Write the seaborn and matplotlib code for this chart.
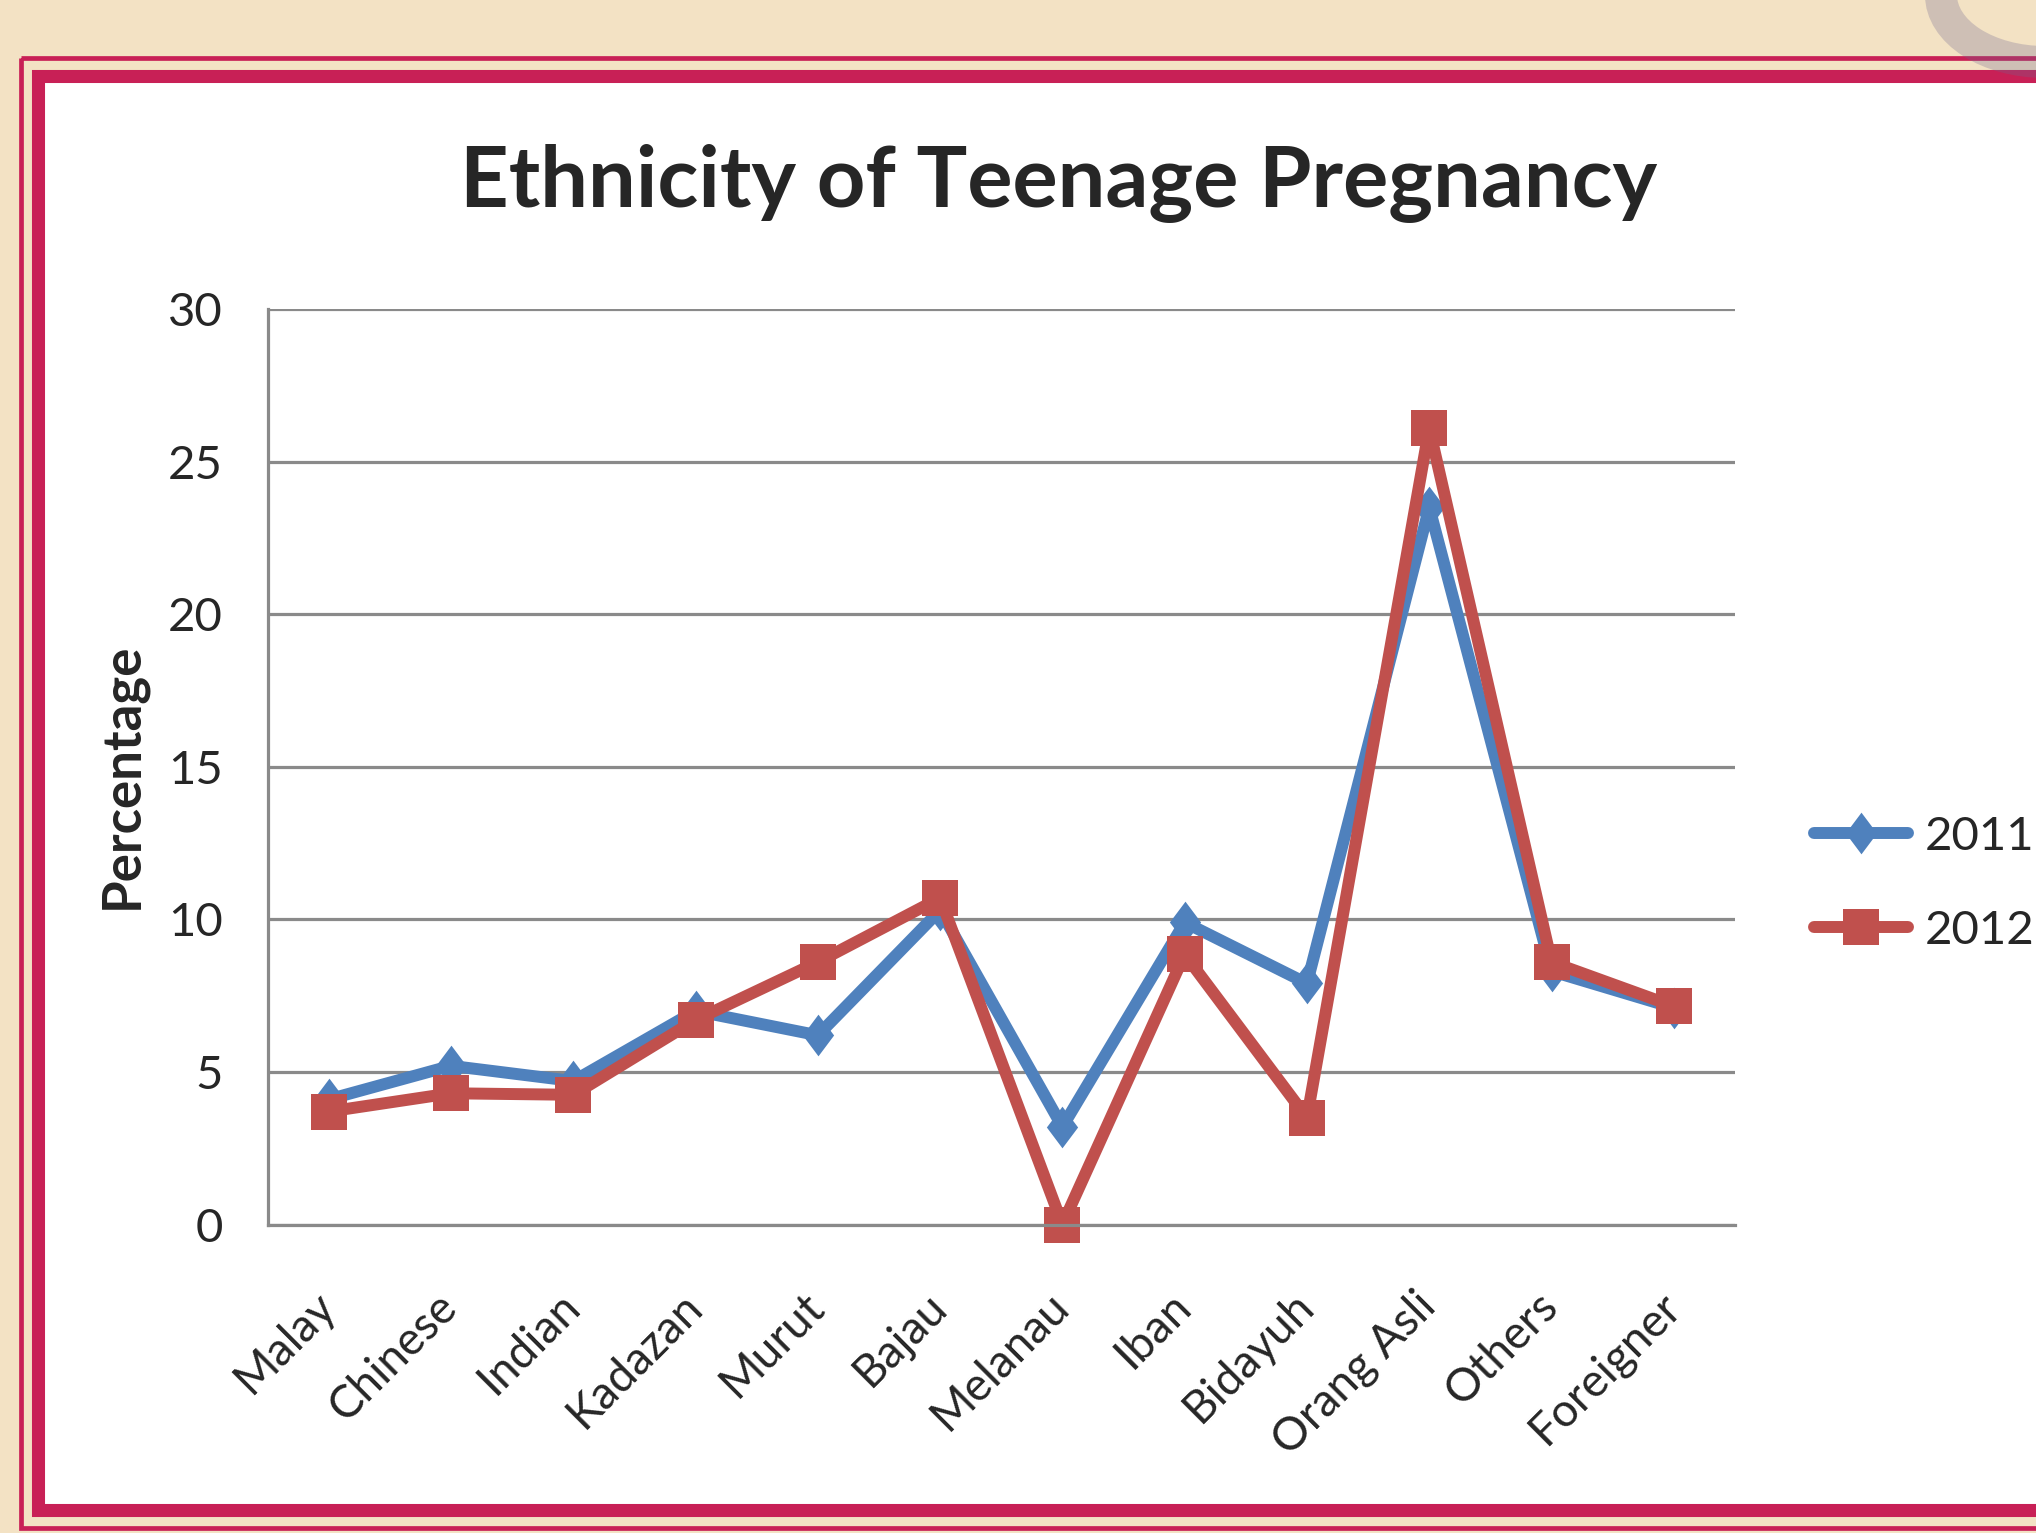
import matplotlib
matplotlib.use('Agg')
import matplotlib.pyplot as plt
from matplotlib.patches import Rectangle, Arc
import pandas as pd
import seaborn as sns

# values
ethnicity = ['Malay', 'Chinese', 'Indian', 'Kadazan', 'Murut', 'Bajau',
             'Melanau', 'Iban', 'Bidayuh', 'Orang Asli', 'Others', 'Foreigner']
pct_2011 = [4.1, 5.2, 4.7, 7.0, 6.2, 10.3, 3.2, 9.9, 7.9, 23.5, 8.3, 7.1]
pct_2012 = [3.7, 4.3, 4.25, 6.7, 8.6, 10.7, 0.0, 8.85, 3.5, 26.1, 8.6, 7.15]
years = ['2011', '2012']
yticks = [0, 5, 10, 15, 20, 25, 30]

df = pd.DataFrame({
    'Ethnicity': ethnicity * 2,
    'Year': [years[0]] * len(pct_2011) + [years[1]] * len(pct_2012),
    'Percentage': pct_2011 + pct_2012,
})

sns.set_style('white')
plt.rcParams['font.family'] = ['Lato', 'DejaVu Sans']

W, H = 2036, 1533
fig = plt.figure(figsize=(W / 100, H / 100), dpi=100)
fig.patch.set_facecolor('#F3E2C4')

# slide frame, drawn in pixel coords on a background axes
bg = fig.add_axes([0, 0, 1, 1], zorder=-10)
bg.set_xlim(0, W)
bg.set_ylim(H, 0)
bg.axis('off')
crimson = '#C82056'
bg.add_patch(Rectangle((21.5, 57.5), 2200, 1527.5 - 57.5, fill=False,
                       edgecolor=crimson, lw=3.4))
bg.add_patch(Rectangle((38.5, 75.5), 2200, 1510 - 75.5, facecolor='white',
                       edgecolor=crimson, lw=9.4))
bg.add_patch(Arc((2045, -5), 208, 134, theta1=90, theta2=270,
                 color='#6E6690', alpha=0.28, lw=23))

ax = fig.add_axes([267.5 / W, 1 - 1224.5 / H, (1735 - 267.5) / W, (1224.5 - 309) / H])
ax.set_facecolor('none')

diamond = [(0, 1), (0.75, 0), (0, -1), (-0.75, 0), (0, 1)]
sns.lineplot(data=df, x='Ethnicity', y='Percentage', hue='Year', style='Year',
             palette={'2011': '#4F81BD', '2012': '#C0504D'},
             markers={'2011': diamond, '2012': 's'}, dashes=False,
             sort=False, legend=False, ax=ax, lw=8.6)
for line, ms in zip(ax.get_lines(), [30, 26]):
    line.set_markersize(ms)
    line.set_markeredgewidth(0)
    line.set_solid_joinstyle('round')
    line.set_clip_on(False)

ax.set_xlim(-0.5, len(ethnicity) - 0.5)
ax.set_ylim(0, 30)
ax.set_yticks(yticks)
ax.set_xticks(range(len(ethnicity)))
ax.set_xticklabels(ethnicity, rotation=45, ha='right', va='center',
                   rotation_mode='anchor', fontsize=33)
ax.tick_params(axis='x', length=0, pad=54)
ax.tick_params(axis='y', length=0, pad=32, labelsize=34)
ax.grid(axis='y', color='#8a8a8a', lw=2.3)
ax.set_axisbelow(True)
for s in ['top', 'right']:
    ax.spines[s].set_visible(False)
for s in ['left', 'bottom']:
    ax.spines[s].set_color('#8a8a8a')
    ax.spines[s].set_linewidth(2.3)
ax.set_xlabel('')
ax.set_ylabel('Percentage', fontsize=38, fontweight='bold')
ax.yaxis.set_label_coords(-0.082, 0.49)

fig.text(0.52, 1 - 183 / H, 'Ethnicity of Teenage Pregnancy', ha='center',
         va='center', fontsize=61, fontweight='bold')

fig.legend(ax.get_lines()[:2], years, loc='center left',
           bbox_to_anchor=(1814 / W, 1 - 884 / H), frameon=False, fontsize=34,
           handlelength=2.0, handletextpad=0.35, labelspacing=1.1,
           borderpad=0, borderaxespad=0)

fig.savefig('out.png', dpi=100, facecolor=fig.get_facecolor())
